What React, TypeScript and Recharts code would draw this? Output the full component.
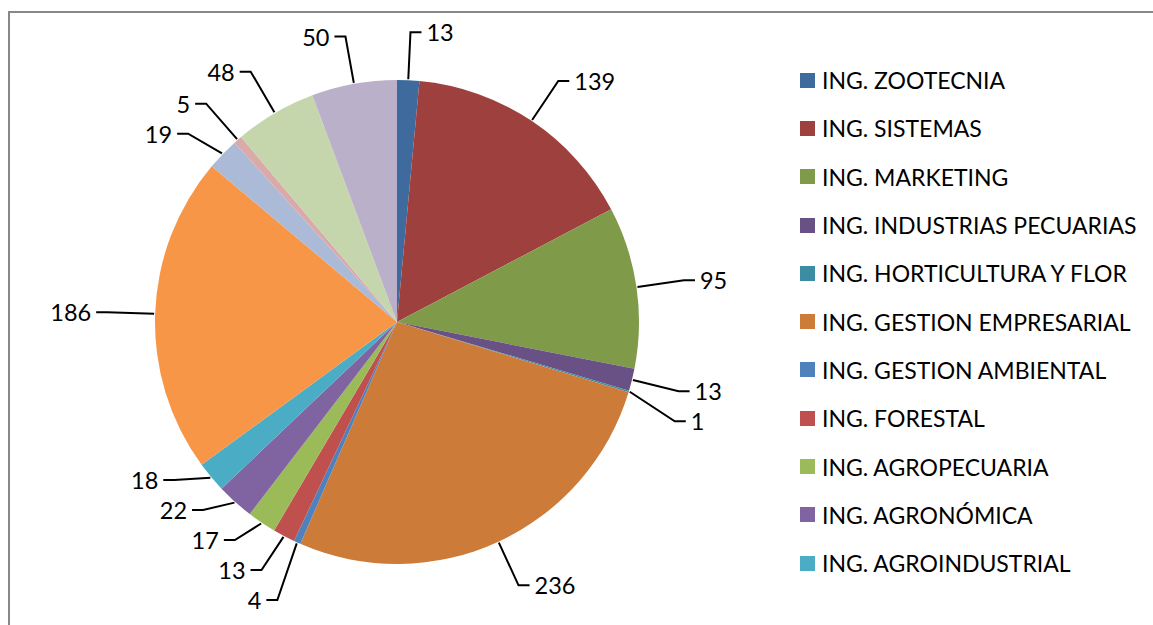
import React from 'react';
import { PieChart, Pie, Cell, Legend } from 'recharts';

// legend only lists the first 11 programs; the last five slices have no visible name
const carreras = [
    'ING. ZOOTECNIA',
    'ING. SISTEMAS',
    'ING. MARKETING',
    'ING. INDUSTRIAS PECUARIAS',
    'ING. HORTICULTURA Y FLOR',
    'ING. GESTION EMPRESARIAL',
    'ING. GESTION AMBIENTAL',
    'ING. FORESTAL',
    'ING. AGROPECUARIA',
    'ING. AGRONÓMICA',
    'ING. AGROINDUSTRIAL',
];

const estudiantes = [13, 139, 95, 13, 1, 236, 4, 13, 17, 22, 18, 186, 19, 5, 48, 50];

const COLORS = [
    '#3E6A9E', '#9E413E', '#7F9A48', '#695185', '#3C8DA3', '#CC7B38',
    '#4F81BD', '#C0504D', '#9BBB59', '#8064A2', '#4BACC6', '#F79646',
    '#AABAD7', '#D9AAA9', '#C6D6AC', '#BAB0C9',
];

const CX = 397;
const CY = 322;
const RADIUS = 242;
const LABEL_R = RADIUS + 48;
const GAP = 30;
const MAX_Y = 600;
const FONT = 'Lato, "Open Sans", sans-serif';

const data = estudiantes.map((value, i) => ({ name: carreras[i] ?? '', value }));

// spread out labels that would overlap, one side at a time (Excel "best fit" look)
const labelY = (() => {
    const total = estudiantes.reduce((a, b) => a + b, 0);
    let cum = 0;
    const pts = estudiantes.map((v, i) => {
        const a = ((cum + v / 2) / total) * Math.PI * 2;
        cum += v;
        const x = CX + LABEL_R * Math.sin(a);
        return { i, y: CY - LABEL_R * Math.cos(a), right: x >= CX };
    });
    [true, false].forEach((side) => {
        const g = pts.filter((p) => p.right === side).sort((p, q) => p.y - q.y);
        for (let k = 1; k < g.length; k++) {
            if (g[k].y < g[k - 1].y + GAP) g[k].y = g[k - 1].y + GAP;
        }
        if (g.length && g[g.length - 1].y > MAX_Y) {
            g[g.length - 1].y = MAX_Y;
            for (let k = g.length - 2; k >= 0; k--) {
                if (g[k].y > g[k + 1].y - GAP) g[k].y = g[k + 1].y - GAP;
            }
        }
    });
    const out: number[] = [];
    pts.forEach((p) => (out[p.i] = p.y));
    return out;
})();

const RAD = Math.PI / 180;

const renderLabel = (props: any) => {
    const { cx, cy, midAngle, outerRadius, index, value } = props;
    const sx = cx + (outerRadius + 1) * Math.cos(-midAngle * RAD);
    const sy = cy + (outerRadius + 1) * Math.sin(-midAngle * RAD);
    const ex = cx + (outerRadius + 48) * Math.cos(-midAngle * RAD);
    const ey = labelY[index];
    const right = ex >= cx;
    const hx = ex + (right ? 11 : -11);
    return (
        <g key={`lbl-${index}`}>
            <polyline
                points={`${sx},${sy} ${ex},${ey} ${hx},${ey}`}
                fill="none"
                stroke="#000"
                strokeWidth={2}
            />
            <text
                x={hx + (right ? 5 : -5)}
                y={ey}
                textAnchor={right ? 'start' : 'end'}
                dominantBaseline="central"
                fontFamily={FONT}
                fontSize={23.5}
                fill="#000"
            >
                {value}
            </text>
        </g>
    );
};

const LegendList = () => (
    <div style={{ fontFamily: FONT, fontSize: 23, color: '#000' }}>
        {carreras.map((c, i) => (
            <div key={c} style={{ height: 48.3, display: 'flex', alignItems: 'center', whiteSpace: 'nowrap' }}>
                <span style={{ width: 15, height: 15, background: COLORS[i], display: 'inline-block', marginRight: 7 }} />
                <span>{c}</span>
            </div>
        ))}
    </div>
);

export default function App() {
    return (
        <div style={{ position: 'fixed', left: 0, top: 0, width: 1153, height: 625, background: '#fff', overflow: 'hidden' }}>
            <div
                style={{
                    position: 'absolute',
                    left: 8,
                    top: 11,
                    width: 1200,
                    height: 700,
                    border: '2px solid #888888',
                }}
            />
            <div style={{ position: 'absolute', left: 0, top: 0 }}>
                <PieChart width={1153} height={625} margin={{ top: 0, right: 0, bottom: 0, left: 0 }}>
                    <Pie
                        data={data}
                        dataKey="value"
                        nameKey="name"
                        cx={CX}
                        cy={CY}
                        outerRadius={RADIUS}
                        startAngle={90}
                        endAngle={-270}
                        stroke="none"
                        label={renderLabel}
                        labelLine={false}
                        isAnimationActive={false}
                    >
                        {data.map((_, i) => (
                            <Cell key={`cell-${i}`} fill={COLORS[i % COLORS.length]} />
                        ))}
                    </Pie>
                    <Legend
                        content={() => <LegendList />}
                        wrapperStyle={{ position: 'absolute', left: 800, top: 56, width: 350 }}
                    />
                </PieChart>
            </div>
        </div>
    );
}
